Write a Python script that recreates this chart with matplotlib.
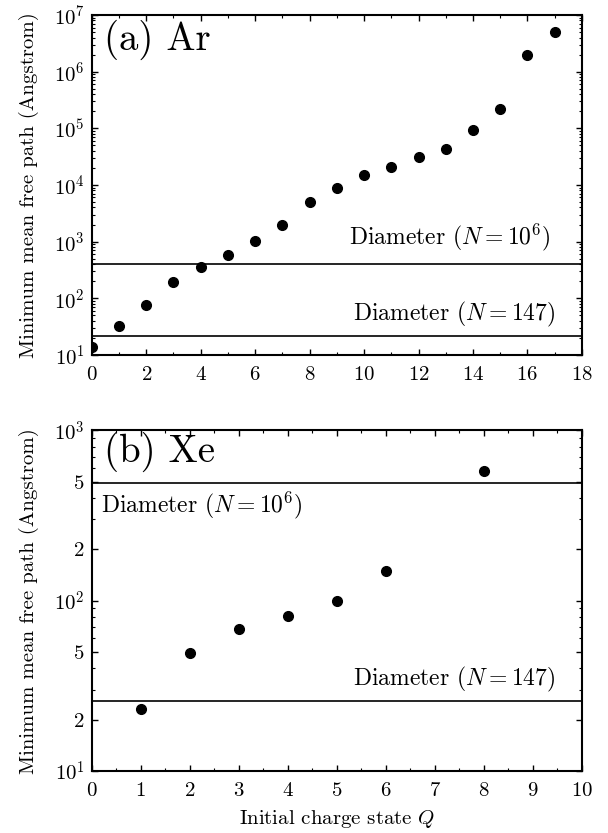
import numpy as np
import matplotlib.pyplot as plt
from matplotlib.ticker import LogLocator, FixedLocator, FixedFormatter, MultipleLocator

plt.rcParams['font.family'] = 'serif'
plt.rcParams['font.serif'] = ['cmr10', 'DejaVu Serif']
plt.rcParams['mathtext.fontset'] = 'cm'
plt.rcParams['axes.formatter.use_mathtext'] = True

# (a) Ar
q_ar = [0, 1, 2, 3, 4, 5, 6, 7, 8, 9, 10, 11, 12, 13, 14, 15, 16, 17]
mfp_ar = [13.5, 32, 76, 197, 352, 575, 1020, 2000, 4900, 8700, 15000,
          21000, 31000, 43000, 92000, 218000, 2.0e6, 5.0e6]
diam_ar = [404, 21.6]

# (b) Xe
q_xe = [1, 2, 3, 4, 5, 6, 8]
mfp_xe = [23.1, 49.3, 68.2, 81, 100, 149, 574]
diam_xe = [493, 25.9]

ylab = 'Minimum mean free path (Angstrom)'

fig = plt.figure(figsize=(6.08, 8.33), dpi=100)
ax1 = fig.add_axes([0.151, 0.574, 0.806, 0.408])
ax2 = fig.add_axes([0.151, 0.0744, 0.806, 0.409])

for ax in (ax1, ax2):
    ax.set_yscale('log')
    ax.tick_params(which='both', direction='in', top=True, right=True, labelsize=15)
    ax.tick_params(axis='x', pad=8)
    ax.tick_params(axis='y', pad=5)
    ax.tick_params(which='major', length=4, width=1)
    ax.tick_params(which='minor', length=2, width=0.8)
    for s in ax.spines.values():
        s.set_linewidth(1.5)
    ax.set_ylabel(ylab, fontsize=15, labelpad=11)

# top panel
ax1.plot(q_ar, mfp_ar, 'o', color='black', ms=7)
for d in diam_ar:
    ax1.axhline(d, color='black', lw=1.2)
ax1.set_xlim(0, 18)
ax1.set_ylim(10, 1e7)
ax1.set_xticks(range(0, 19, 2))
ax1.xaxis.set_minor_locator(MultipleLocator(1))
ax1.yaxis.set_major_locator(LogLocator(base=10, numticks=10))
ax1.yaxis.set_minor_locator(LogLocator(base=10, subs=np.arange(2, 10), numticks=20))
ax1.text(0.025, 0.985, '(a) Ar', transform=ax1.transAxes, fontsize=28, va='top', ha='left')
ax1.text(0.935, diam_ar[0] * 1.55, r'Diameter ($N = 10^6$)', transform=ax1.get_yaxis_transform(),
         fontsize=17, ha='right', va='bottom')
ax1.text(0.945, diam_ar[1] * 1.3, r'Diameter ($N = 147$)', transform=ax1.get_yaxis_transform(),
         fontsize=17, ha='right', va='bottom')

# bottom panel
ax2.plot(q_xe, mfp_xe, 'o', color='black', ms=7)
for d in diam_xe:
    ax2.axhline(d, color='black', lw=1.2)
ax2.set_xlim(0, 10)
ax2.set_ylim(10, 1000)
ax2.set_xticks(range(0, 11))
ax2.xaxis.set_minor_locator(MultipleLocator(0.5))
yt = [10, 20, 50, 100, 200, 500, 1000]
ax2.yaxis.set_major_locator(FixedLocator(yt))
ax2.yaxis.set_major_formatter(FixedFormatter([r'$10^1$', '2', '5', r'$10^2$', '2', '5', r'$10^3$']))
ax2.yaxis.set_minor_locator(LogLocator(base=10, subs=[3, 4, 6, 7, 8, 9], numticks=20))
ax2.text(0.025, 0.995, '(b) Xe', transform=ax2.transAxes, fontsize=28, va='top', ha='left')
ax2.text(0.018, diam_xe[0] / 1.1, r'Diameter ($N = 10^6$)', transform=ax2.get_yaxis_transform(),
         fontsize=17, ha='left', va='top')
ax2.text(0.945, diam_xe[1] * 1.1, r'Diameter ($N = 147$)', transform=ax2.get_yaxis_transform(),
         fontsize=17, ha='right', va='bottom')
ax2.set_xlabel(r'Initial charge state $Q$', fontsize=15, labelpad=6)

fig.savefig('out.png', dpi=100)
